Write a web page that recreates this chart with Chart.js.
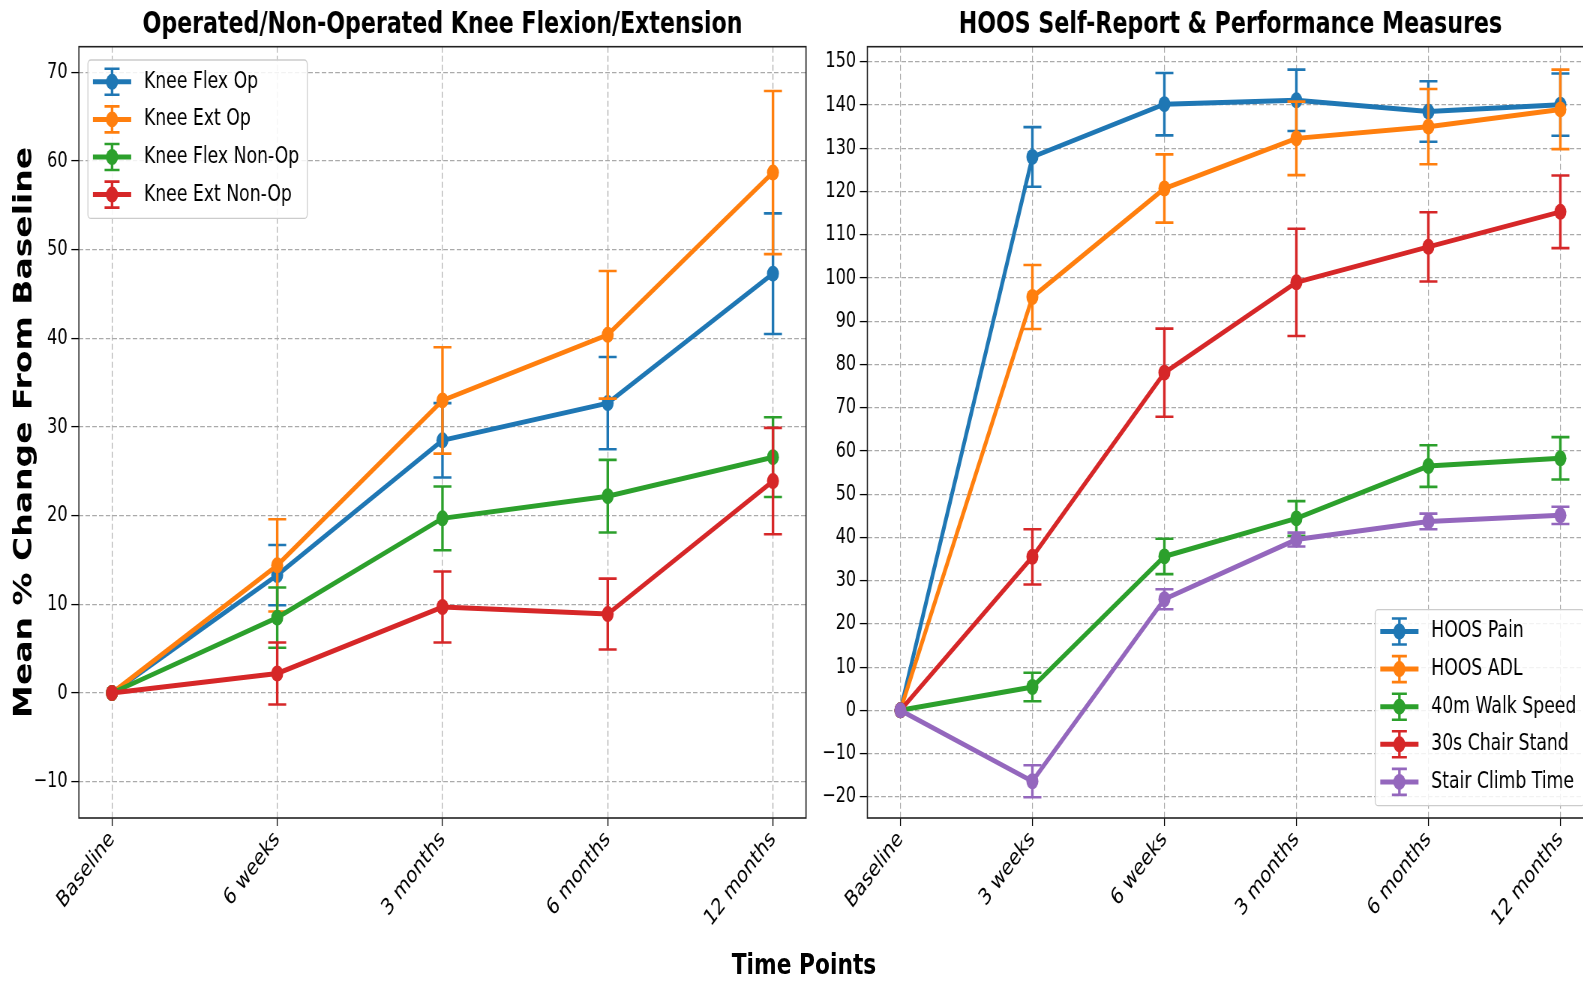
<!DOCTYPE html>
<html>
<head>
<meta charset="utf-8">
<title>Knee and HOOS measures</title>
<script src="https://cdn.jsdelivr.net/npm/chart.js@4.4.1/dist/chart.umd.min.js"></script>
<style>
  html, body { margin: 0; padding: 0; width: 1583px; height: 981px; overflow: hidden; background: #fff; }
  /* the source figure is squeezed horizontally, so the whole page is too */
  #page { position: absolute; left: 0; top: 0; width: 2221px; height: 981px; transform: scaleX(0.75); transform-origin: 0 0; }
  #box1 { position: absolute; left: 0; top: 0; width: 1180px; height: 981px; }
  #box2 { position: absolute; left: 1060px; top: 0; width: 1161px; height: 981px; }
  #xlabel { position: absolute; left: 872px; top: 947px; width: 400px; text-align: center;
            font: bold 29px "DejaVu Sans"; line-height: 34px; color: #000; }
</style>
</head>
<body>
<div id="page">
  <div id="box1"><canvas id="chart1"></canvas></div>
  <div id="box2"><canvas id="chart2"></canvas></div>
  <div id="xlabel">Time Points</div>
</div>
<script>
// left panel
const leftCategories = ['Baseline', '6 weeks', '3 months', '6 months', '12 months'];
const leftYTicks = [-10, 0, 10, 20, 30, 40, 50, 60, 70];
const kneeFlexOp = [0, 13.3, 28.5, 32.7, 47.3];
const kneeFlexOpErr = [0, 3.4, 4.2, 5.2, 6.8];
const kneeExtOp = [0, 14.4, 33.0, 40.4, 58.7];
const kneeExtOpErr = [0, 5.2, 6.0, 7.2, 9.2];
const kneeFlexNonOp = [0, 8.5, 19.7, 22.2, 26.6];
const kneeFlexNonOpErr = [0, 3.4, 3.6, 4.1, 4.5];
const kneeExtNonOp = [0, 2.2, 9.7, 8.9, 23.9];
const kneeExtNonOpErr = [0, 3.5, 4.0, 4.0, 6.0];

// right panel
const rightCategories = ['Baseline', '3 weeks', '6 weeks', '3 months', '6 months', '12 months'];
const rightYTicks = [-20, -10, 0, 10, 20, 30, 40, 50, 60, 70, 80, 90, 100, 110, 120, 130, 140, 150];
const hoosPain = [0, 128.0, 140.2, 141.1, 138.5, 140.1];
const hoosPainErr = [0, 6.9, 7.2, 7.1, 7.0, 7.2];
const hoosAdl = [0, 95.6, 120.7, 132.3, 135.0, 139.0];
const hoosAdlErr = [0, 7.4, 7.9, 8.5, 8.7, 9.2];
const walkSpeed = [0, 5.4, 35.6, 44.4, 56.5, 58.3];
const walkSpeedErr = [0, 3.3, 4.1, 4.0, 4.8, 4.9];
const chairStand = [0, 35.5, 78.1, 99.0, 107.2, 115.3];
const chairStandErr = [0, 6.4, 10.2, 12.4, 8.0, 8.4];
const stairClimb = [0, -16.4, 25.7, 39.5, 43.7, 45.1];
const stairClimbErr = [0, 3.7, 2.3, 1.6, 1.8, 2.0];

const colours = ['#1f77b4', '#ff7f0e', '#2ca02c', '#d62728', '#9467bd'];

Chart.defaults.font.family = '"DejaVu Sans"';
Chart.defaults.color = '#000';

function makeSet(label, values, errors, colour, idx) {
  return {
    label: label,
    data: values.map((v, i) => ({ x: i, y: v })),
    errors: errors,
    borderColor: colour,
    backgroundColor: colour,
    pointBackgroundColor: colour,
    borderWidth: 5,
    pointRadius: 8,
    pointBorderWidth: 0,
    tension: 0,
    fill: false,
    order: 10 - idx   // later series on top, like matplotlib
  };
}

// error bars drawn just before each line
const errorBars = {
  id: 'errorBars',
  beforeDatasetDraw(chart, args) {
    const ds = chart.data.datasets[args.index];
    const yScale = chart.scales.y;
    const ctx = chart.ctx;
    ctx.save();
    ctx.strokeStyle = ds.borderColor;
    args.meta.data.forEach((pt, i) => {
      const e = ds.errors[i];
      if (!e) return;
      const v = ds.data[i].y;
      const yTop = yScale.getPixelForValue(v + e);
      const yBot = yScale.getPixelForValue(v - e);
      ctx.lineWidth = 3.4;
      ctx.beginPath();
      ctx.moveTo(pt.x, yTop);
      ctx.lineTo(pt.x, yBot);
      ctx.stroke();
      ctx.lineWidth = 2.6;
      ctx.beginPath();
      ctx.moveTo(pt.x - 12, yTop); ctx.lineTo(pt.x + 12, yTop);
      ctx.moveTo(pt.x - 12, yBot); ctx.lineTo(pt.x + 12, yBot);
      ctx.stroke();
    });
    ctx.restore();
  }
};

// box round the plot area and the errorbar legend
const frameAndLegend = {
  id: 'errLegend',
  afterDraw(chart, args, opts) {
    const ctx = chart.ctx, ca = chart.chartArea;
    ctx.save();
    ctx.strokeStyle = '#222';
    ctx.lineWidth = 1.6;
    ctx.strokeRect(ca.left, ca.top, ca.right - ca.left, ca.bottom - ca.top);

    const sets = chart.data.datasets;
    ctx.font = '23px "DejaVu Sans"';
    const textW = Math.max(...sets.map(d => ctx.measureText(d.label).width));
    const rowH = 37.6, handleW = 51, padL = 6.7, gap = 17, padR = 10.7;
    const w = padL + handleW + gap + textW + padR;
    const h = sets.length * rowH + 8;
    let x, y;
    if (opts.corner === 'upper left') {
      x = ca.left + 12; y = ca.top + 13.3;
    } else {
      x = ca.right - 12 - w; y = ca.bottom - 12.3 - h;
    }
    ctx.fillStyle = 'rgba(255,255,255,0.85)';
    ctx.strokeStyle = '#cccccc';
    ctx.lineWidth = 1.3;
    ctx.beginPath();
    ctx.roundRect(x, y, w, h, 4);
    ctx.fill();
    ctx.stroke();

    sets.forEach((d, i) => {
      const cy = y + 3 + rowH * (i + 0.5);
      const x0 = x + padL, xm = x0 + handleW / 2;
      ctx.strokeStyle = d.borderColor;
      ctx.fillStyle = d.borderColor;
      ctx.lineWidth = 5;
      ctx.beginPath(); ctx.moveTo(x0, cy); ctx.lineTo(x0 + handleW, cy); ctx.stroke();
      ctx.lineWidth = 3.4;
      ctx.beginPath(); ctx.moveTo(xm, cy - 13); ctx.lineTo(xm, cy + 13); ctx.stroke();
      ctx.lineWidth = 2.6;
      ctx.beginPath();
      ctx.moveTo(xm - 10, cy - 13); ctx.lineTo(xm + 10, cy - 13);
      ctx.moveTo(xm - 10, cy + 13); ctx.lineTo(xm + 10, cy + 13);
      ctx.stroke();
      ctx.beginPath(); ctx.arc(xm, cy, 8, 0, Math.PI * 2); ctx.fill();
      ctx.fillStyle = '#000';
      ctx.textBaseline = 'middle';
      ctx.textAlign = 'left';
      ctx.fillText(d.label, x0 + handleW + gap, cy);
    });
    ctx.restore();
  }
};

function minusSign(v) {
  return v < 0 ? '\u2212' + Math.abs(v) : String(v);
}

function makeScales(cats, yTicks, yMin, yMax, xPad, yWidth, rightWidth, yTitle) {
  return {
    x: {
      type: 'linear',
      min: -xPad,
      max: cats.length - 1 + xPad,
      afterBuildTicks: s => { s.ticks = cats.map((c, i) => ({ value: i })); },
      afterFit: s => { s.height = 163; },
      ticks: {
        callback: v => cats[v],
        minRotation: 45, maxRotation: 45, autoSkip: false,
        font: { size: 23 }, padding: 0
      },
      grid: { color: '#aaaaaa', lineWidth: 1.2, tickColor: '#000', tickLength: 8, tickWidth: 1.3 },
      border: { display: false, dash: [6, 3] }
    },
    y: {
      min: yMin,
      max: yMax,
      afterBuildTicks: s => { s.ticks = yTicks.map(v => ({ value: v })); },
      afterFit: s => { s.width = yWidth; },
      ticks: { callback: minusSign, font: { size: 21.5 }, padding: 5 },
      title: yTitle ? {
        display: true, text: yTitle,
        font: { size: 33, weight: 'bold' }, padding: { top: 14, bottom: 0 }
      } : { display: false },
      grid: { color: '#aaaaaa', lineWidth: 1.2, tickColor: '#000', tickLength: 10, tickWidth: 1.3 },
      border: { display: false, dash: [6, 3] }
    },
    // empty right-hand axis: keeps the title centred over the plot
    yRight: {
      position: 'right',
      min: yMin,
      max: yMax,
      afterFit: s => { s.width = rightWidth; },
      ticks: { display: false },
      grid: { display: false, drawTicks: false },
      border: { display: false }
    }
  };
}

function makeOptions(titleText, scales, corner) {
  return {
    responsive: true,
    maintainAspectRatio: false,
    animation: false,
    events: [],
    layout: { padding: 0 },
    plugins: {
      legend: { display: false },
      tooltip: { enabled: false },
      title: {
        display: true, text: titleText, color: '#000',
        font: { size: 29.5, weight: 'bold' }, padding: { top: 8, bottom: 3.3 }
      },
      errLegend: { corner: corner }
    },
    scales: scales
  };
}

new Chart(document.getElementById('chart1'), {
  type: 'line',
  data: {
    datasets: [
      makeSet('Knee Flex Op', kneeFlexOp, kneeFlexOpErr, colours[0], 0),
      makeSet('Knee Ext Op', kneeExtOp, kneeExtOpErr, colours[1], 1),
      makeSet('Knee Flex Non-Op', kneeFlexNonOp, kneeFlexNonOpErr, colours[2], 2),
      makeSet('Knee Ext Non-Op', kneeExtNonOp, kneeExtNonOpErr, colours[3], 3)
    ]
  },
  options: makeOptions('Operated/Non-Operated Knee Flexion/Extension',
    makeScales(leftCategories, leftYTicks, -14.1, 72.9, 0.2, 105.2, 105.3, 'Mean % Change From Baseline'),
    'upper left'),
  plugins: [errorBars, frameAndLegend]
});

new Chart(document.getElementById('chart2'), {
  type: 'line',
  data: {
    datasets: [
      makeSet('HOOS Pain', hoosPain, hoosPainErr, colours[0], 0),
      makeSet('HOOS ADL', hoosAdl, hoosAdlErr, colours[1], 1),
      makeSet('40m Walk Speed', walkSpeed, walkSpeedErr, colours[2], 2),
      makeSet('30s Chair Stand', chairStand, chairStandErr, colours[3], 3),
      makeSet('Stair Climb Time', stairClimb, stairClimbErr, colours[4], 4)
    ]
  },
  options: makeOptions('HOOS Self-Report & Performance Measures',
    makeScales(rightCategories, rightYTicks, -24.9, 153.5, 0.25, 96.5, 96.5, null),
    'lower right'),
  plugins: [errorBars, frameAndLegend]
});
</script>
</body>
</html>
